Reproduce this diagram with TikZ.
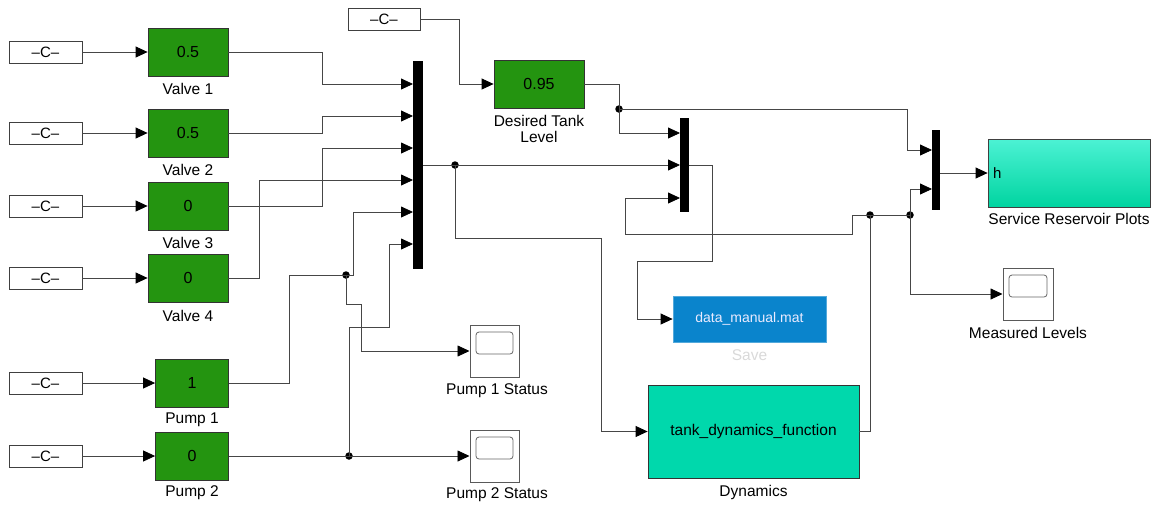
\documentclass[tikz,border=0pt]{standalone}
\usepackage{fontspec}
\setmainfont{Liberation Sans}
\usetikzlibrary{arrows.meta}
\definecolor{sgreen}{RGB}{36,148,16}
\definecolor{dteal}{RGB}{0,216,172}
\definecolor{srptop}{RGB}{76,242,212}
\definecolor{srpbot}{RGB}{0,212,160}
\definecolor{saveblue}{RGB}{10,132,204}
\definecolor{wiregray}{RGB}{70,70,70}
\begin{document}
\begin{tikzpicture}[x=1pt,y=-1pt,
  cst/.style={draw=black!75, fill=white, line width=0.8pt, minimum width=73pt, minimum height=22pt, inner sep=0pt, font=\fontsize{15}{17}\selectfont},
  gblk/.style={draw=black!80, fill=sgreen, line width=0.8pt, minimum height=48pt, inner sep=0pt, font=\fontsize{16}{18}\selectfont},
  muxbar/.style={fill=black, inner sep=0pt},
  lbl/.style={font=\fontsize{15.5}{17}\selectfont, inner sep=0pt, anchor=base},
  scopeblk/.style={draw=black!65, fill=white, line width=1pt, minimum width=49pt, minimum height=52pt, inner sep=0pt,
    path picture={\draw[black!60, line width=0.8pt, rounded corners=3pt]
      ([xshift=6pt,yshift=-7pt]path picture bounding box.north west) rectangle
      ([xshift=-6pt,yshift=-29pt]path picture bounding box.north east);}},
  wire/.style={draw=wiregray, line width=0.8pt},
  arr/.style={wire, -{Triangle[length=12pt,width=11pt,color=black]}},
  jdot/.style={circle, fill=black, inner sep=0pt, minimum size=7.5pt}
]
\useasboundingbox (0,0) rectangle (1156,507);

% constants
\node[cst] (c1) at (45.5,52) {–C–};
\node[cst] (c2) at (45.5,133) {–C–};
\node[cst] (c3) at (45.5,206) {–C–};
\node[cst] (c4) at (45.5,278) {–C–};
\node[cst] (c5) at (45.5,383) {–C–};
\node[cst] (c6) at (45.5,456) {–C–};
\node[cst, minimum width=72pt] (c7) at (384,19) {–C–};

% green blocks
\node[gblk, minimum width=80pt] (v1) at (188,52) {0.5};
\node[gblk, minimum width=80pt] (v2) at (188,133) {0.5};
\node[gblk, minimum width=80pt] (v3) at (188,206) {0};
\node[gblk, minimum width=80pt] (v4) at (188,278) {0};
\node[gblk, minimum width=73pt] (p1) at (192,383) {1};
\node[gblk, minimum width=73pt] (p2) at (192,456) {0};
\node[gblk, minimum width=90pt] (des) at (539,84) {0.95};

\node[lbl] (v1l) at (188,94) {Valve 1};
\node[lbl] (v2l) at (188,175) {Valve 2};
\node[lbl] (v3l) at (188,248) {Valve 3};
\node[lbl] (v4l) at (188,321) {Valve 4};
\node[lbl] (p1l) at (192,423) {Pump 1};
\node[lbl] (p2l) at (192,496) {Pump 2};
\node[lbl] (desl1) at (539,126) {Desired Tank};
\node[lbl] (desl2) at (539,142) {Level};

% muxes
\node[muxbar, minimum width=10pt, minimum height=208pt] (m1) at (418,165) {};
\node[muxbar, minimum width=9pt, minimum height=94pt] (m2) at (684.5,165) {};
\node[muxbar, minimum width=8pt, minimum height=80pt] (m3) at (936,169.5) {};

\coordinate (m1a) at (413,84);
\coordinate (m1b) at (413,116);
\coordinate (m1c) at (413,148);
\coordinate (m1d) at (413,180);
\coordinate (m1e) at (413,212);
\coordinate (m1f) at (413,244);
\coordinate (m2a) at (680,133);
\coordinate (m2b) at (680,165);
\coordinate (m2c) at (680,198);
\coordinate (m3a) at (932,150);
\coordinate (m3b) at (932,189);

% scopes
\node[scopeblk] (s1) at (494.5,351) {};
\node[scopeblk] (s2) at (494.5,456) {};
\node[scopeblk, minimum width=50pt] (ml) at (1028,294) {};
\node[lbl] (s1l) at (497,394.5) {Pump 1 Status};
\node[lbl] (s2l) at (497,498.5) {Pump 2 Status};
\node[lbl] (mll) at (1028,338.5) {Measured Levels};

% save block
\node[fill=saveblue, draw=saveblue!70!white, line width=0.8pt, minimum width=153pt, minimum height=46pt, inner sep=0pt,
      text=white!92!blue, font=\fontsize{14}{16}\selectfont] (sav) at (749.5,319) {data\_manual.mat};
\node[lbl, text=black!15] (savl) at (749.5,360.5) {Save};

% dynamics
\node[fill=dteal, draw=black!80, line width=0.8pt, minimum width=211pt, minimum height=93pt, inner sep=0pt,
      font=\fontsize{15.5}{17}\selectfont] (dyn) at (753.5,431.5) {tank\_dynamics\_function};
\node[lbl] (dynl) at (753.5,496.5) {Dynamics};

% service reservoir plots
\node[top color=srptop, bottom color=srpbot, draw=black!75, line width=0.8pt, minimum width=162pt, minimum height=68pt, inner sep=0pt] (srp) at (1069,173) {};
\node[anchor=west, inner sep=0pt, font=\fontsize{15}{17}\selectfont] (srph) at (993,173) {h};
\node[lbl] (srpl) at (1069,224.5) {Service Reservoir Plots};

% junctions
\node[jdot] (j1) at (346,275) {};
\node[jdot] (j2) at (349,456) {};
\node[jdot] (j3) at (455,165) {};
\node[jdot] (j4) at (619,109) {};
\node[jdot] (j5) at (870,215) {};
\node[jdot] (j6) at (910,215) {};

% wires
\draw[arr] (c1) -- (v1);
\draw[arr] (c2) -- (v2);
\draw[arr] (c3) -- (v3);
\draw[arr] (c4) -- (v4);
\draw[arr] (c5) -- (p1);
\draw[arr] (c6) -- (p2);
\draw[arr] (c7.east) -- (459,19) |- (des.west);

\draw[arr] (v1.east) -- (322,52) |- (m1a);
\draw[arr] (v2.east) -- (322,133) |- (m1b);
\draw[arr] (v3.east) -- (322,206) |- (m1c);
\draw[arr] (v4.east) -- (259,278) |- (m1d);

\draw[wire] (p1.east) -- (289,383) |- (j1.center);
\draw[arr] (j1.center) -- (353,275) |- (m1e);
\draw[arr] (j1.center) -- (346,304) -- (361,304) |- (s1.west);
\draw[wire] (p2.east) -- (j2.center);
\draw[arr] (j2.center) -- (s2.west);
\draw[arr] (j2.center) -- (349,327) -- (389,327) |- (m1f);

\draw[wire] (m1.east) -- (j3.center);
\draw[arr] (j3.center) -- (m2b);
\draw[arr] (j3.center) -- (455,238) -- (601,238) |- (dyn.west);

\draw[wire] (des.east) -- (619,84) -- (j4.center);
\draw[arr] (j4.center) |- (m2a);
\draw[arr] (j4.center) -- (907,109) |- (m3a);

\draw[arr] (m2.east) -- (712,165) -- (712,261) -- (637,261) |- (sav.west);

\draw[wire] (dyn.east) -| (j5.center);
\draw[wire] (j5.center) -- (j6.center);
\draw[arr] (j6.center) |- (m3b);
\draw[arr] (j6.center) |- (ml.west);
\draw[arr] (j5.center) -- (852,215) -- (852,234) -- (625,234) |- (m2c);
\draw[arr] (m3.east |- srp.west) -- (srp.west);
\end{tikzpicture}
\end{document}
